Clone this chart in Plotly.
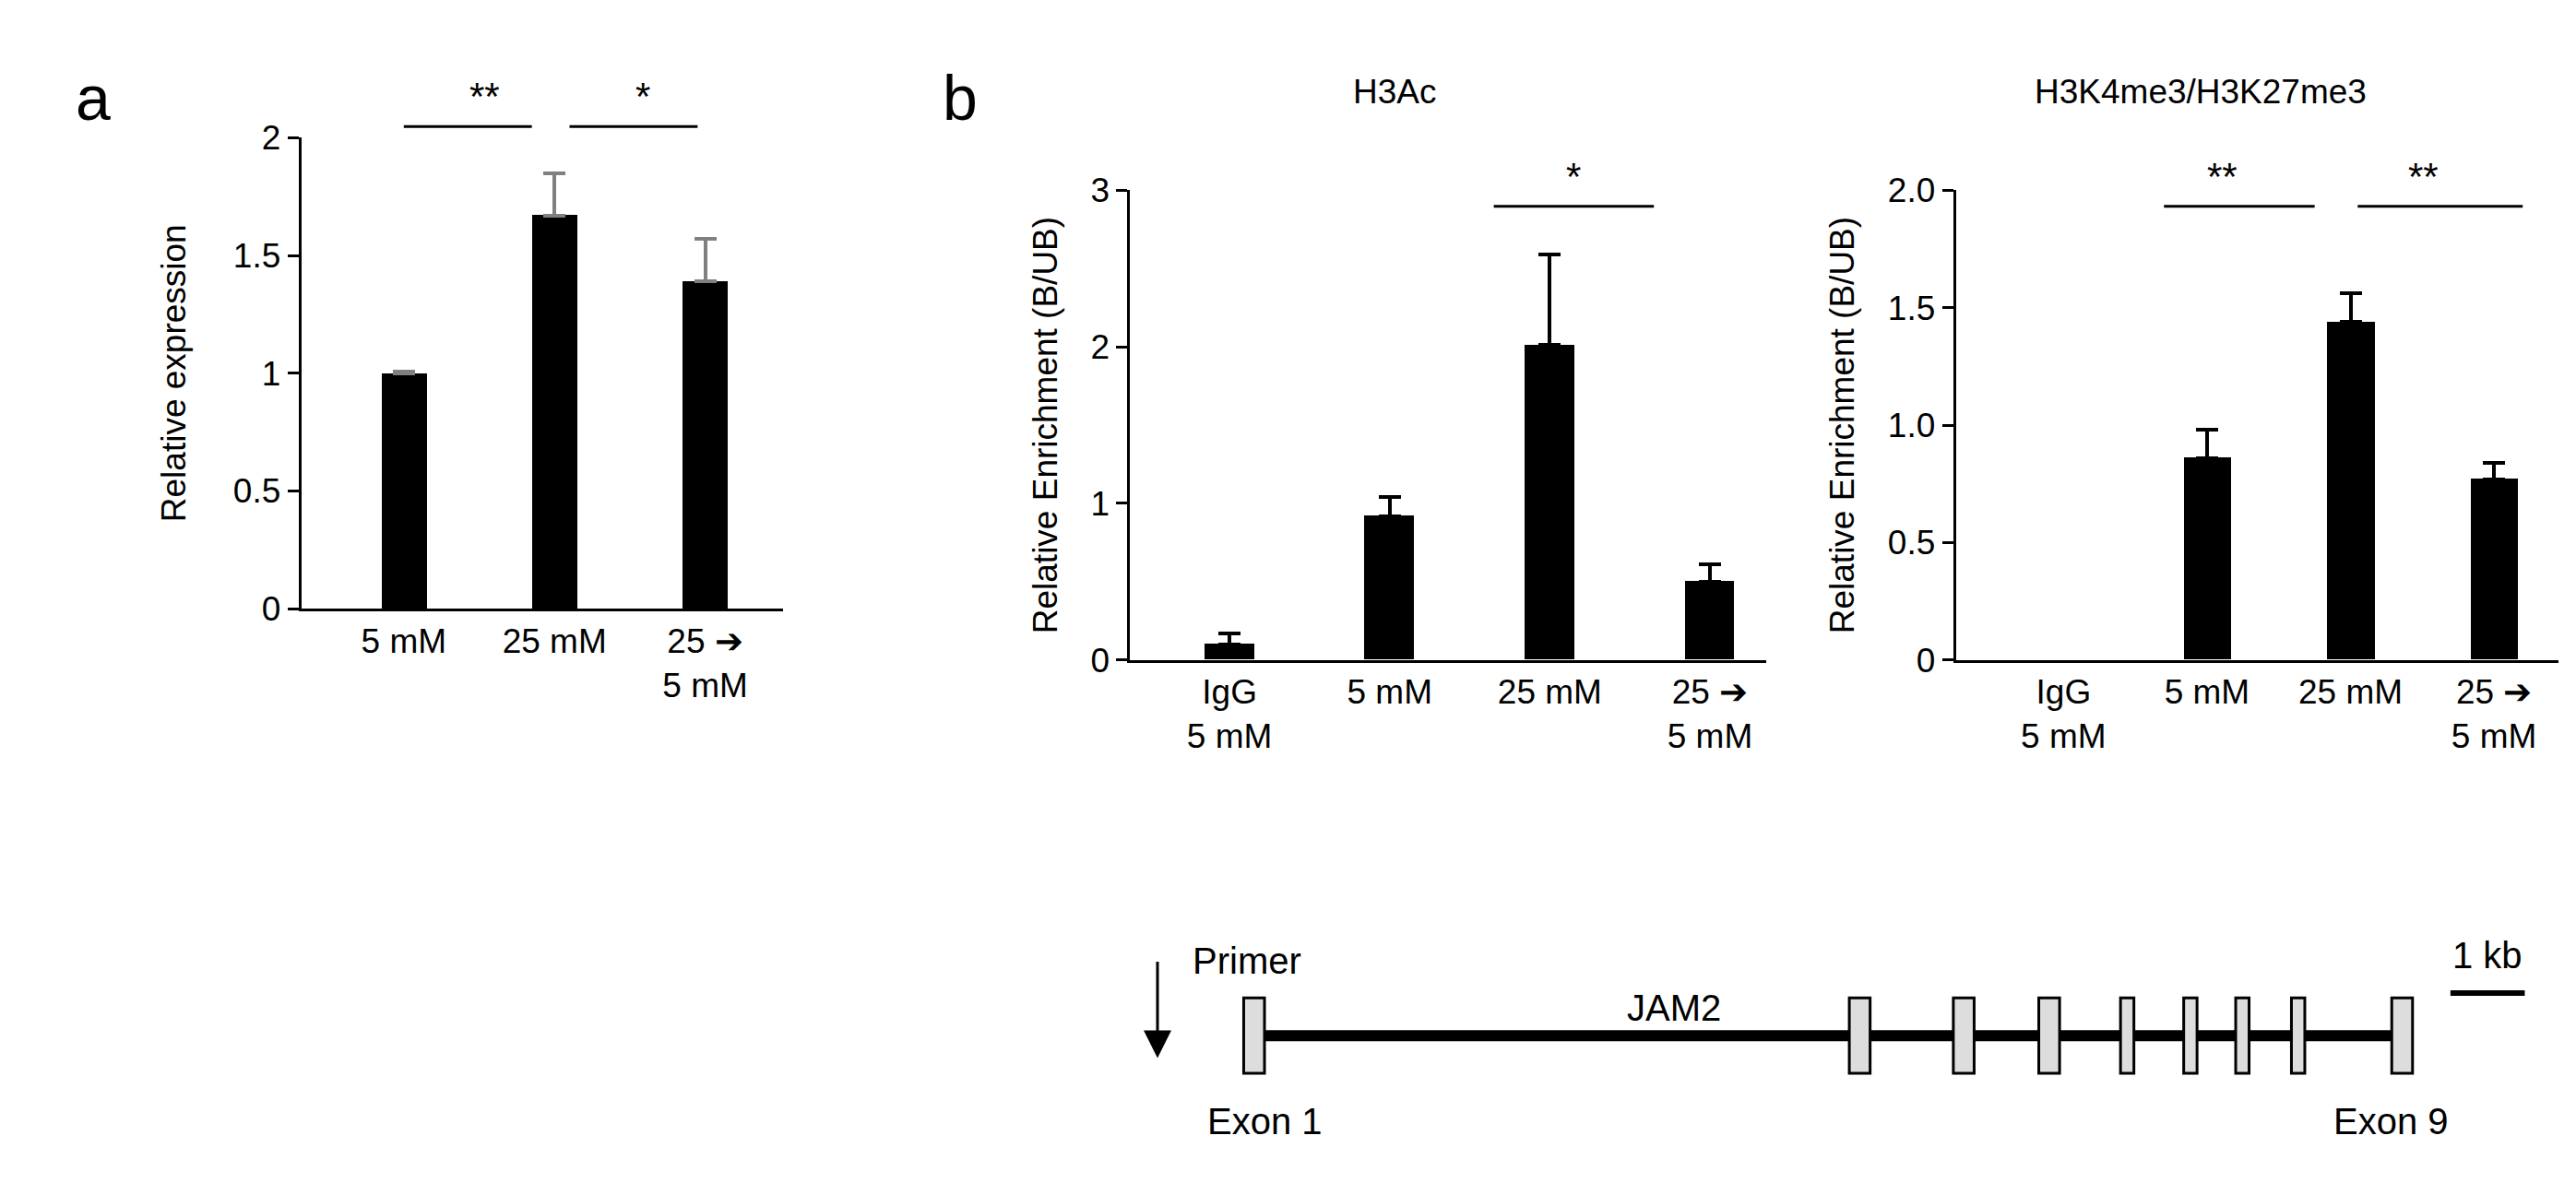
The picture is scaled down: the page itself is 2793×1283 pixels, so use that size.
import plotly.graph_objects as go

W, H = 2793, 1283

a_cats = ["5 mM", "25 mM", "25 ➔<br>5 mM"]
a_vals = [1.0, 1.67, 1.39]
a_err = [0.005, 0.18, 0.18]

b_cats = ["IgG<br>5 mM", "5 mM", "25 mM", "25 ➔<br>5 mM"]
h3ac_vals = [0.10, 0.92, 2.01, 0.50]
h3ac_err = [0.07, 0.12, 0.58, 0.11]
h3k4_vals = [None, 0.86, 1.44, 0.77]
h3k4_err = [0.0, 0.12, 0.12, 0.07]

exon_kb = [0, 8.15, 9.55, 10.7, 11.75, 12.6, 13.3, 14.05, 15.45]
exon_w = [0.28, 0.28, 0.28, 0.28, 0.18, 0.18, 0.18, 0.18, 0.28]

def px(x): return x/1560
def py(y): return 1 - y/717

FONT = "Liberation Sans"
FS = 37
fig = go.Figure()

panels = [
    dict(ax="", cats=a_cats, vals=a_vals, err=a_err, x0=178, x1=470, y0=365, ytop=70, ymax=2,
         r=[-0.68, 2.52], ecol="#808080", ticks=[0, 0.5, 1, 1.5, 2], tt=["0", "0.5", "1", "1.5", "2"],
         title="Relative expression", bw=0.3, so=40),
    dict(ax="2", cats=b_cats, vals=h3ac_vals, err=h3ac_err, x0=680, x1=1065, y0=397, ytop=103, ymax=3,
         r=[-0.62, 3.35], ecol="black", ticks=[0, 1, 2, 3], tt=["0", "1", "2", "3"],
         title="Relative Enrichment (B/UB)", bw=0.31, so=25),
    dict(ax="3", cats=b_cats, vals=h3k4_vals, err=h3k4_err, x0=1180, x1=1545, y0=397, ytop=103, ymax=2,
         r=[-0.75, 3.45], ecol="black", ticks=[0, 0.5, 1, 1.5, 2], tt=["0", "0.5", "1.0", "1.5", "2.0"],
         title="Relative Enrichment (B/UB)", bw=0.33, so=25),
]

axis_common = dict(showline=True, linecolor="black", linewidth=3, ticks="outside", ticklen=12,
                   tickwidth=3, tickcolor="black", showgrid=False, zeroline=False,
                   tickfont=dict(size=FS, family=FONT, color="black"))
for p in panels:
    n = p["ax"]
    fig.add_trace(go.Bar(x=list(range(len(p["vals"]))), y=p["vals"], width=p["bw"],
                         marker=dict(color="black", line=dict(width=0)),
                         error_y=dict(type="data", array=p["err"], arrayminus=[0]*len(p["err"]),
                                      symmetric=False, color=p["ecol"], thickness=4, width=12),
                         xaxis="x"+n, yaxis="y"+n, showlegend=False))
    fig.update_layout(**{
        "xaxis"+n: dict(axis_common, domain=[px(p["x0"]), px(p["x1"])], range=p["r"],
                        tickvals=list(range(len(p["cats"]))), ticktext=p["cats"], ticks="",
                        anchor="y"+n),
        "yaxis"+n: dict(axis_common, domain=[py(p["y0"]), py(p["ytop"])], range=[0, p["ymax"]],
                        tickvals=p["ticks"], ticktext=p["tt"], anchor="x"+n,
                        title=dict(text=p["title"], font=dict(size=FS, family=FONT, color="black"),
                                   standoff=p["so"])),
    })

def dx(p, x):
    return px(p["x0"] + (x - p["r"][0]) / (p["r"][1] - p["r"][0]) * (p["x1"] - p["x0"]))

shapes, annos = [], []
sigs = [(0, 0.0, 0.85, 63, "**"), (0, 1.1, 1.95, 63, "*"),
        (1, 1.65, 2.65, 113, "*"),
        (2, 0.7, 1.75, 113, "**"), (2, 2.05, 3.2, 113, "**")]
for pi, xa, xb, ypx, star in sigs:
    p = panels[pi]
    shapes.append(dict(type="line", xref="paper", yref="paper", x0=dx(p, xa), x1=dx(p, xb),
                       y0=py(ypx), y1=py(ypx), line=dict(color="black", width=3)))
    annos.append(dict(x=(dx(p, xa)+dx(p, xb))/2, y=py(ypx-4), xref="paper", yref="paper", text=star,
                      showarrow=False, yanchor="bottom", font=dict(size=42, family=FONT, color="black")))

for t, x, y, s in [("a", 40, 22, 68), ("b", 577, 22, 68), ("H3Ac", 840, 28, FS),
                   ("H3K4me3/H3K27me3", 1430, 28, FS)]:
    annos.append(dict(x=px(x), y=py(y), xref="paper", yref="paper", text=t, showarrow=False,
                      font=dict(size=s, family=FONT, color="black")))

# gene diagram axis (kb)
fig.update_layout(xaxis4=dict(domain=[px(600), 1], range=[(600-755)/45, (1560-755)/45], visible=False,
                              anchor="y4"),
                  yaxis4=dict(domain=[0, py(560)], range=[0, 1], visible=False, anchor="x4"))
gy = 0.54
shapes.append(dict(type="line", xref="x4", yref="y4", x0=exon_kb[0], x1=exon_kb[-1], y0=gy, y1=gy,
                   line=dict(color="black", width=12)))
for k, w in zip(exon_kb, exon_w):
    shapes.append(dict(type="rect", xref="x4", yref="y4", x0=k-w/2, x1=k+w/2, y0=gy-0.15, y1=gy+0.15,
                       fillcolor="#dddddd", line=dict(color="black", width=3)))
shapes.append(dict(type="line", xref="x4", yref="y4", x0=16.1, x1=17.1, y0=0.71, y1=0.71,
                   line=dict(color="black", width=6)))
annos.append(dict(x=-1.3, y=0.45, ax=-1.3, ay=0.84, xref="x4", yref="y4", axref="x4", ayref="y4",
                  text="", showarrow=True, arrowhead=2, arrowsize=2, arrowwidth=3, arrowcolor="black"))
for t, x, y, xa in [("Primer", -0.85, 0.84, "left"), ("JAM2", 5.65, 0.65, "center"),
                    ("Exon 1", -0.65, 0.2, "left"), ("Exon 9", 16.1, 0.2, "right"),
                    ("1 kb", 16.6, 0.86, "center")]:
    annos.append(dict(x=x, y=y, xref="x4", yref="y4", text=t, showarrow=False, xanchor=xa,
                      font=dict(size=FS+3, family=FONT, color="black")))

fig.update_layout(width=W, height=H, margin=dict(l=0, r=0, t=0, b=0), plot_bgcolor="white",
                  paper_bgcolor="white", shapes=shapes, annotations=annos, bargap=0)
fig.write_html("out.html")
